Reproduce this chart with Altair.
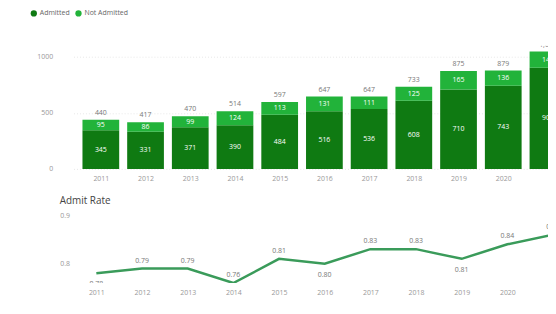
import altair as alt
import pandas as pd

years = [2011, 2012, 2013, 2014, 2015, 2016, 2017, 2018, 2019, 2020, 2021]
admitted = [345, 331, 371, 390, 484, 516, 536, 608, 710, 743, 903]
not_admitted = [95, 86, 99, 124, 113, 131, 111, 125, 165, 136, 145]
admit_rate = [0.78, 0.79, 0.79, 0.76, 0.81, 0.80, 0.83, 0.83, 0.81, 0.84, 0.86]
rate_label_side = ["below", "above", "above", "above", "above", "below", "above", "above", "below", "above", "above"]
statuses = ["Admitted", "Not Admitted"]
colors = ["#0f7a12", "#22b33a"]
year_ticks = [2011, 2012, 2013, 2014, 2015, 2016, 2017, 2018, 2019, 2020]

rows = []
for y, a, n in zip(years, admitted, not_admitted):
    rows.append({"year": y, "status": "Admitted", "value": a, "lo": 0, "hi": a, "mid": a / 2})
    rows.append({"year": y, "status": "Not Admitted", "value": n, "lo": a, "hi": a + n, "mid": a + n / 2})
bars_df = pd.DataFrame(rows)
tot_df = pd.DataFrame({"year": years, "total": [a + n for a, n in zip(admitted, not_admitted)]})
rate_df = pd.DataFrame({"year": years, "rate": admit_rate, "side": rate_label_side})

FONT = "Open Sans"
W = 478
BAR_W = 37
# the frame cuts the last year in half, as in the reference
xscale = alt.Scale(domain=[2010.5, 2020.89], nice=False, zero=False)
x_enc = alt.X("year:Q", scale=xscale,
              axis=alt.Axis(title=None, values=year_ticks, format="d", labelAngle=0, ticks=False,
                            domain=False, labelColor="#999999", labelFontSize=7, labelPadding=6,
                            grid=False))
x_plain = alt.X("year:Q", scale=xscale)

ybar = alt.Scale(domain=[0, 1100], nice=False)

bars = alt.Chart(bars_df).mark_bar(size=BAR_W, clip=True).encode(
    x=x_enc,
    y=alt.Y("lo:Q", scale=ybar,
            axis=alt.Axis(title=None, values=[0, 500, 1000], format="d", ticks=False, domain=False,
                          labelColor="#999999", labelFontSize=7, labelPadding=21,
                          gridColor="#e8e8e8", gridDash=[1, 2])),
    y2="hi:Q",
    color=alt.Color("status:N", scale=alt.Scale(domain=statuses, range=colors),
                    legend=alt.Legend(title=None, orient="none", legendX=-44, legendY=-37,
                                      direction="horizontal",
                                      symbolType="circle", symbolSize=40, labelFontSize=7,
                                      labelColor="#666666", columnPadding=4, labelOffset=2)),
)

seg_text = alt.Chart(bars_df).mark_text(color="white", fontSize=7, font=FONT, clip=True).encode(
    x=x_plain,
    y=alt.Y("mid:Q", scale=ybar),
    text=alt.Text("value:Q"),
)

tot_text = alt.Chart(tot_df).mark_text(color="#777777", fontSize=7, font=FONT, baseline="bottom",
                                       dy=-4, clip=True).encode(
    x=x_plain,
    y=alt.Y("total:Q", scale=ybar),
    text=alt.Text("total:Q", format=",d"),
)

top = alt.layer(bars, seg_text, tot_text).properties(width=W, height=124)

yrate = alt.Scale(domain=[0.76, 0.92], nice=False, zero=False)

line = alt.Chart(rate_df).mark_line(color="#3a9b5a", strokeWidth=2.5, clip=True).encode(
    x=x_enc,
    y=alt.Y("rate:Q", scale=yrate,
            axis=alt.Axis(title=None, values=[0.8, 0.9], format=".1f", ticks=False, domain=False,
                          labelColor="#999999", labelFontSize=7, labelPadding=4, grid=False)),
)

above = alt.Chart(rate_df).transform_filter(alt.datum.side == "above").mark_text(
    color="#777777", fontSize=7, font=FONT, baseline="bottom", dy=-5, clip=True).encode(
    x=x_plain,
    y=alt.Y("rate:Q", scale=yrate),
    text=alt.Text("rate:Q", format=".2f"),
)
below = alt.Chart(rate_df).transform_filter(alt.datum.side == "below").mark_text(
    color="#777777", fontSize=7, font=FONT, baseline="top", dy=7, clip=True).encode(
    x=x_plain,
    y=alt.Y("rate:Q", scale=yrate),
    text=alt.Text("rate:Q", format=".2f"),
)

bottom = alt.layer(line, above, below).properties(
    width=W, height=78,
    title=alt.TitleParams("Admit Rate", anchor="start", frame="bounds", fontSize=10,
                          fontWeight="normal", color="#444444", font=FONT, offset=0),
)

chart = alt.vconcat(top, bottom, spacing=14).properties(
    padding={"left": 22, "top": 0, "right": 0, "bottom": 0}
).configure(font=FONT).configure_view(stroke=None)

chart.save("out.html", embed_options={"renderer": "svg", "actions": False})
